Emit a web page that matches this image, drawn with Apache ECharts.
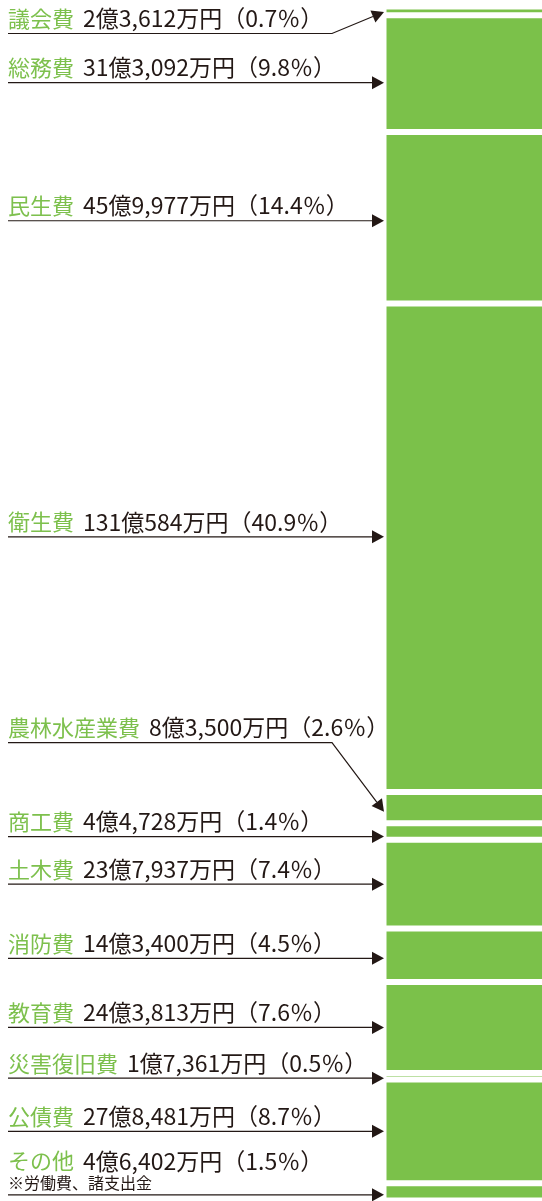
<!DOCTYPE html>
<html lang="ja">
<head>
<meta charset="utf-8">
<title>歳出の内訳</title>
<script src="https://cdn.jsdelivr.net/npm/echarts@6/dist/echarts.min.js"></script>
<style>
  html, body { margin: 0; padding: 0; background: #fff; }
  #chart { width: 542px; height: 1201px; }
</style>
</head>
<body>
<div id="chart"></div>
<script>
// 款別の歳出（万円）と構成比（%）
const categories = ['議会費', '総務費', '民生費', '衛生費', '農林水産業費', '商工費', '土木費', '消防費', '教育費', '災害復旧費', '公債費', 'その他'];
const amounts = [23612, 313092, 459977, 1310584, 83500, 44728, 237937, 143400, 243813, 17361, 278481, 46402];
const shares = [0.7, 9.8, 14.4, 40.9, 2.6, 1.4, 7.4, 4.5, 7.6, 0.5, 8.7, 1.5];
const notes = ['', '', '', '', '', '', '', '', '', '', '', '※労働費、諸支出金'];

// レイアウト（px）
const GREEN = '#7bc14a';
const TEXT_GREEN = '#7dc04d';
const INK = '#231815';
const LEFT_X = 8;
const TIP_X = 384;
const BEND_X = 332;
const HEAD_LEN = 12;
const HEAD_HALF = 6.5;
const arrowShift = [1, 9, 3, -11, 4, 5, 0, 3, 0, 2, 0, 3];
const bendRise = { 0: 21.6, 4: -69 };

const total = amounts.reduce((a, b) => a + b, 0);
const starts = [];
amounts.reduce((acc, v, i) => { starts[i] = acc; return acc + v; }, 0);

function formatAmount(v) {
  const oku = Math.floor(v / 10000);
  const man = v % 10000;
  return oku + '億' + man.toLocaleString('en-US') + '万円';
}

const myChart = echarts.init(document.getElementById('chart'));

const barSeries = categories.map((name, i) => ({
  name: name,
  type: 'bar',
  stack: 'total',
  barWidth: '100%',
  silent: true,
  clip: false,
  data: [amounts[i]],
  itemStyle: {
    color: GREEN,
    borderColor: '#fff',
    borderWidth: 3
  }
}));

const labelSeries = {
  type: 'custom',
  xAxisIndex: 0,
  yAxisIndex: 0,
  clip: false,
  silent: true,
  z: 10,
  encode: { x: 0, y: 1 },
  data: categories.map((c, i) => [0, starts[i] + amounts[i] / 2, i]),
  renderItem: function (params, api) {
    const i = api.value(2);
    const yc = api.coord([0, api.value(1)])[1];
    const tipY = yc + arrowShift[i];
    const bent = bendRise[i] !== undefined;
    const lineY = bent ? tipY + bendRise[i] : tipY;
    const pts = bent
      ? [[LEFT_X, lineY], [BEND_X, lineY], [TIP_X, tipY]]
      : [[LEFT_X, lineY], [TIP_X, tipY]];

    // 矢印の頭
    const from = pts[pts.length - 2];
    const dx = TIP_X - from[0];
    const dy = tipY - from[1];
    const len = Math.sqrt(dx * dx + dy * dy);
    const ux = dx / len, uy = dy / len;
    const bx = TIP_X - ux * HEAD_LEN, by = tipY - uy * HEAD_LEN;
    const head = [
      [TIP_X, tipY],
      [bx - uy * HEAD_HALF, by + ux * HEAD_HALF],
      [bx + uy * HEAD_HALF, by - ux * HEAD_HALF]
    ];
    const linePts = pts.slice(0, -1).concat([[bx, by]]);

    const hasNote = notes[i] !== '';
    const children = [
      {
        type: 'polyline',
        shape: { points: linePts },
        style: { stroke: INK, lineWidth: 1.2, fill: null }
      },
      {
        type: 'polygon',
        shape: { points: head },
        style: { fill: INK }
      },
      {
        type: 'text',
        style: {
          x: LEFT_X,
          y: lineY - (hasNote ? 34 : 15),
          text: '{g|' + categories[i] + '}{n|' + formatAmount(amounts[i]) + '（' + shares[i] + '％）}',
          verticalAlign: 'middle',
          align: 'left',
          rich: {
            g: {
              fill: TEXT_GREEN,
              fontSize: 22,
              fontFamily: 'Noto Sans CJK JP',
              padding: [0, 9, 0, 0]
            },
            n: {
              fill: INK,
              fontSize: 23,
              fontFamily: 'Noto Sans CJK JP'
            }
          }
        }
      }
    ];
    if (hasNote) {
      children.push({
        type: 'text',
        style: {
          x: LEFT_X,
          y: lineY - 12,
          text: notes[i],
          verticalAlign: 'middle',
          fill: INK,
          fontSize: 16,
          fontFamily: 'Noto Sans CJK JP'
        }
      });
    }
    return { type: 'group', children: children };
  }
};

const chartOption = {
  animation: false,
  backgroundColor: '#fff',
  grid: {
    left: 383.5,
    width: 170,
    top: 6.5,
    height: 1194,
    outerBoundsMode: 'none'
  },
  xAxis: {
    type: 'category',
    data: ['歳出'],
    show: false
  },
  yAxis: {
    type: 'value',
    inverse: true,
    min: 0,
    max: total,
    show: false
  },
  series: barSeries.concat([labelSeries])
};
myChart.setOption(chartOption);
</script>
</body>
</html>
